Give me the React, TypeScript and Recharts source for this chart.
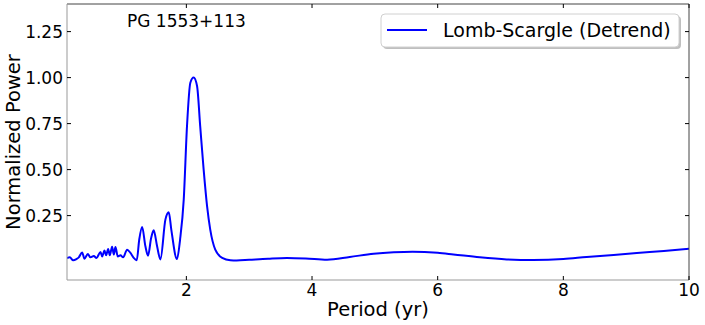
import React from 'react';
import { LineChart, Line, XAxis, YAxis, Customized } from 'recharts';

const periods = [
  0.1, 0.145, 0.198, 0.251, 0.288, 0.341, 0.378, 0.431, 0.474, 0.527, 0.569, 0.633, 0.66, 0.696,
  0.723, 0.755, 0.781, 0.818, 0.845, 0.871, 0.908, 0.951, 0.993, 1.057, 1.11, 1.162, 1.21, 1.25,
  1.296, 1.348, 1.39, 1.439, 1.48, 1.534, 1.587, 1.666, 1.72, 1.76, 1.85, 1.9, 1.958, 2.01, 2.063,
  2.116, 2.17, 2.22, 2.275, 2.33, 2.38, 2.46, 2.57, 2.7, 2.8, 3.0, 3.3, 3.6, 3.9, 4.24, 4.6, 4.98,
  5.3, 5.6, 6.0, 6.25, 6.67, 7.1, 7.52, 8.0, 8.37, 8.8, 9.17, 9.6, 10.0,
];
const power = [
  0.02, 0.023, 0.007, 0.014, 0.023, 0.05, 0.016, 0.041, 0.023, 0.03, 0.02, 0.052, 0.028, 0.061,
  0.034, 0.069, 0.034, 0.081, 0.038, 0.079, 0.028, 0.034, 0.023, 0.065, 0.047, 0.02, 0.008, 0.12,
  0.188, 0.083, 0.032, 0.128, 0.17, 0.083, 0.012, 0.228, 0.268, 0.174, 0.014, 0.12, 0.337, 0.736,
  0.972, 1.0, 0.954, 0.736, 0.5, 0.3, 0.174, 0.065, 0.02, 0.007, 0.006, 0.01, 0.016, 0.02, 0.017,
  0.01, 0.025, 0.043, 0.051, 0.054, 0.048, 0.039, 0.023, 0.012, 0.009, 0.014, 0.025, 0.036, 0.047,
  0.058, 0.07,
];
const xTicks = [2, 4, 6, 8, 10];
const yTicks = [0.25, 0.5, 0.75, 1.0, 1.25];
const seriesName = 'Lomb-Scargle (Detrend)';
const titleText = 'PG 1553+113';
const xLabel = 'Period (yr)';
const yLabel = 'Normalized Power';

const data = periods.map((p, i) => ({ period: p, power: power[i] }));

const FONT = '"DejaVu Sans", sans-serif';
const TICK_LEN = 4;

const BottomTick = (props: any) => {
  const { x, y, payload } = props;
  return (
    <g>
      <line x1={x} x2={x} y1={y} y2={y - TICK_LEN} stroke="#000" strokeWidth={1} />
      <text x={x} y={y + 16} textAnchor="middle" fontSize={17} fontFamily={FONT} fill="#000">
        {payload.value}
      </text>
    </g>
  );
};
const TopTick = (props: any) => {
  const { x, y } = props;
  return <line x1={x} x2={x} y1={y} y2={y + TICK_LEN} stroke="#000" strokeWidth={1} />;
};
const LeftTick = (props: any) => {
  const { x, y, payload } = props;
  return (
    <g>
      <line x1={x} x2={x + TICK_LEN} y1={y} y2={y} stroke="#000" strokeWidth={1} />
      <text x={x - 4} y={y + 6} textAnchor="end" fontSize={17} fontFamily={FONT} fill="#000">
        {Number(payload.value).toFixed(2)}
      </text>
    </g>
  );
};
const RightTick = (props: any) => {
  const { x, y } = props;
  return <line x1={x} x2={x - TICK_LEN} y1={y} y2={y} stroke="#000" strokeWidth={1} />;
};

const Overlay = () => (
  <g>
    <text x={127} y={27} fontSize={17} fontFamily={FONT} fill="#000">
      {titleText}
    </text>
    <rect x={383} y={16} width={298} height={33} rx={4} ry={4} fill="#808080" opacity={0.5} />
    <rect x={381} y={14} width={298} height={33} rx={4} ry={4} fill="#fff" stroke="#d0d0d0" strokeWidth={1} />
    <line x1={387} x2={427} y1={30} y2={30} stroke="#0000ff" strokeWidth={2} />
    <text x={443} y={37} fontSize={19} fontFamily={FONT} fill="#000">
      {seriesName}
    </text>
  </g>
);

export default function App() {
  return (
    <div style={{ position: 'absolute', left: 0, top: 0, width: 705, height: 325, background: '#fff' }}>
      <LineChart width={705} height={325} data={data} margin={{ top: 3, right: 15, bottom: 0, left: 0 }}>
        <XAxis
          dataKey="period"
          type="number"
          domain={[0.1, 10]}
          ticks={xTicks}
          allowDataOverflow
          height={45}
          tickSize={0}
          tickMargin={0}
          tickLine={false}
          tick={<BottomTick />}
          axisLine={{ stroke: '#999', strokeWidth: 1 }}
          label={{ value: xLabel, position: 'insideBottom', offset: 9, fontSize: 19.5, fontFamily: FONT, fill: '#000' }}
        />
        <XAxis
          xAxisId="top"
          orientation="top"
          dataKey="period"
          type="number"
          domain={[0.1, 10]}
          ticks={xTicks}
          allowDataOverflow
          height={1}
          tickSize={0}
          tickMargin={0}
          tickLine={false}
          tick={<TopTick />}
          axisLine={{ stroke: '#444', strokeWidth: 1 }}
        />
        <YAxis
          type="number"
          domain={[-0.1, 1.4]}
          ticks={yTicks}
          allowDataOverflow
          width={67}
          tickSize={0}
          tickMargin={0}
          tickLine={false}
          tick={<LeftTick />}
          axisLine={{ stroke: '#999', strokeWidth: 1 }}
          label={{
            content: () => (
              <text
                x={20}
                y={142}
                transform="rotate(-90 20 142)"
                textAnchor="middle"
                fontSize={19.5}
                fontFamily={FONT}
                fill="#000"
              >
                {yLabel}
              </text>
            ),
          }}
        />
        <YAxis
          yAxisId="right"
          orientation="right"
          type="number"
          domain={[-0.1, 1.4]}
          ticks={yTicks}
          allowDataOverflow
          width={1}
          tickSize={0}
          tickMargin={0}
          tickLine={false}
          tick={<RightTick />}
          axisLine={{ stroke: '#444', strokeWidth: 1 }}
        />
        <Line
          xAxisId="top"
          yAxisId="right"
          type="monotone"
          dataKey="power"
          stroke="none"
          dot={false}
          legendType="none"
          isAnimationActive={false}
        />
        <Line
          type="monotone"
          dataKey="power"
          name={seriesName}
          stroke="#0000ff"
          strokeWidth={2}
          dot={false}
          isAnimationActive={false}
        />
        <Customized component={<Overlay />} />
      </LineChart>
    </div>
  );
}
